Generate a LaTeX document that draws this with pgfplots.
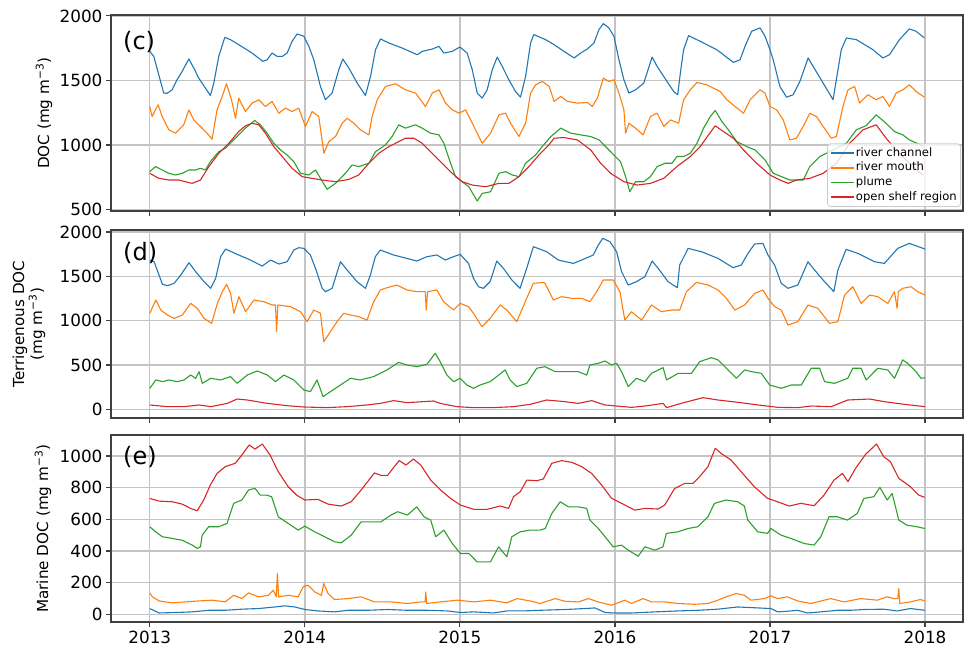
\documentclass[border=0pt]{standalone}
\usepackage{fontspec}
\setmainfont{DejaVu Sans}
\usepackage{pgfplots}
\pgfplotsset{compat=1.18}
\definecolor{cA}{HTML}{1F77B4}
\definecolor{cB}{HTML}{FF7F0E}
\definecolor{cC}{HTML}{2CA02C}
\definecolor{cD}{HTML}{D62728}
\definecolor{gridc}{HTML}{C4C4C4}
\definecolor{framec}{HTML}{404040}

\pgfplotsset{
  panel/.style={
    scale only axis, width=426pt,
    xmin=2012.75, xmax=2018.245,
    xtick={2013,2014,2015,2016,2017,2018},
    grid=major, major grid style={gridc, line width=0.7pt},
    axis line style={framec, line width=0.65pt},
    tick style={framec, line width=0.6pt}, tick align=outside,
    major tick length=2.6pt,
    xtick pos=bottom, ytick pos=left,
    /pgf/number format/assume math mode=true,
    /pgf/number format/1000 sep={},
    ticklabel style={font=\fontsize{8.4pt}{10pt}\selectfont, inner sep=1.5pt},
    label style={font=\fontsize{7.6pt}{9pt}\selectfont},
    every axis plot/.append style={no markers, line width=0.55pt, line join=round},
  },
}
\tikzset{plab/.style={font=\fontsize{12pt}{14pt}\selectfont, anchor=west}}

\begin{document}
\begin{tikzpicture}
\useasboundingbox (0,0) rectangle (485pt,-325.5pt);

% ---------------- (c) total DOC
\begin{axis}[panel, at={(55.5pt,-7.5pt)}, anchor=north west, height=98pt,
  ymin=488, ymax=2007, ytick={500,1000,1500,2000}, xticklabels={},
  ylabel={DOC (mg m\textsuperscript{−3})},
  ylabel style={at={(axis description cs:-0.0786,0.5)}, anchor=center},
  legend cell align=left,
  legend image code/.code={\draw[#1, line width=0.8pt] (0pt,0pt) -- (11.5pt,0pt);},
  legend style={at={(rel axis cs:1,0)}, anchor=south east, xshift=-1pt, yshift=2pt,
    font=\fontsize{5.8pt}{6.5pt}\selectfont, draw=black!20, fill=white,
    fill opacity=0.8, text opacity=1, draw opacity=1, rounded corners=1.5pt,
    inner sep=1.2pt, row sep=0.2pt,
    nodes={inner sep=0.7pt, text height=4.4pt, text depth=1.3pt}}]
\addplot[cA] coordinates {
(2013.000,1725)(2013.026,1686)(2013.090,1402)(2013.112,1400)(2013.144,1427)(2013.176,1505)
(2013.209,1570)(2013.252,1666)(2013.284,1596)(2013.316,1518)(2013.359,1440)(2013.391,1383)
(2013.413,1479)(2013.445,1686)(2013.484,1834)(2013.520,1816)(2013.574,1777)(2013.660,1712)
(2013.729,1648)(2013.757,1660)(2013.789,1712)(2013.822,1686)(2013.854,1686)(2013.886,1712)
(2013.918,1803)(2013.951,1860)(2013.994,1842)(2014.026,1764)(2014.058,1660)(2014.101,1453)
(2014.133,1350)(2014.176,1402)(2014.219,1583)(2014.245,1666)(2014.284,1596)(2014.338,1479)
(2014.391,1383)(2014.424,1531)(2014.456,1738)(2014.488,1821)(2014.542,1790)(2014.628,1751)
(2014.725,1699)(2014.757,1725)(2014.822,1743)(2014.865,1764)(2014.897,1712)(2014.951,1725)
(2015.000,1759)(2015.047,1712)(2015.080,1583)(2015.112,1402)(2015.144,1363)(2015.176,1427)
(2015.209,1583)(2015.241,1681)(2015.273,1609)(2015.316,1505)(2015.359,1414)(2015.391,1370)
(2015.424,1531)(2015.456,1790)(2015.477,1855)(2015.553,1816)(2015.608,1777)(2015.672,1725)
(2015.737,1674)(2015.779,1712)(2015.822,1743)(2015.865,1790)(2015.897,1894)(2015.925,1940)
(2015.961,1907)(2015.994,1842)(2016.026,1660)(2016.058,1505)(2016.090,1402)(2016.133,1427)
(2016.186,1479)(2016.240,1681)(2016.272,1609)(2016.336,1492)(2016.379,1414)(2016.405,1389)
(2016.422,1557)(2016.443,1738)(2016.475,1847)(2016.550,1803)(2016.657,1738)(2016.764,1640)
(2016.807,1660)(2016.839,1764)(2016.882,1881)(2016.936,1907)(2016.968,1842)(2017.000,1738)
(2017.021,1660)(2017.064,1453)(2017.107,1370)(2017.150,1389)(2017.193,1492)(2017.246,1674)
(2017.278,1609)(2017.343,1479)(2017.407,1350)(2017.428,1505)(2017.460,1738)(2017.493,1829)
(2017.557,1816)(2017.664,1738)(2017.728,1674)(2017.771,1699)(2017.835,1816)(2017.899,1899)
(2017.942,1881)(2017.996,1829)};
\addlegendentry{river channel}
\addplot[cB] coordinates {
(2013.000,1298)(2013.015,1220)(2013.054,1311)(2013.080,1220)(2013.123,1117)(2013.166,1091)
(2013.219,1156)(2013.252,1272)(2013.284,1194)(2013.327,1143)(2013.370,1091)(2013.402,1044)
(2013.434,1272)(2013.467,1376)(2013.495,1474)(2013.527,1350)(2013.553,1207)(2013.574,1363)
(2013.617,1259)(2013.660,1324)(2013.703,1350)(2013.746,1298)(2013.789,1337)(2013.832,1246)
(2013.875,1285)(2013.918,1259)(2013.961,1285)(2014.004,1143)(2014.047,1259)(2014.090,1220)
(2014.123,935)(2014.155,1026)(2014.198,1065)(2014.241,1168)(2014.273,1207)(2014.316,1168)
(2014.359,1117)(2014.413,1078)(2014.434,1220)(2014.467,1350)(2014.520,1453)(2014.585,1474)
(2014.649,1427)(2014.714,1402)(2014.778,1298)(2014.822,1402)(2014.865,1427)(2014.908,1324)
(2014.951,1272)(2014.994,1246)(2015.037,1272)(2015.080,1168)(2015.144,1013)(2015.198,1091)
(2015.252,1233)(2015.295,1246)(2015.327,1168)(2015.381,1065)(2015.424,1168)(2015.456,1402)
(2015.488,1466)(2015.531,1492)(2015.576,1453)(2015.608,1337)(2015.651,1376)(2015.694,1337)
(2015.758,1324)(2015.822,1329)(2015.854,1298)(2015.887,1363)(2015.925,1518)(2015.961,1492)
(2015.994,1505)(2016.026,1402)(2016.058,1272)(2016.069,1091)(2016.090,1168)(2016.133,1130)
(2016.182,1078)(2016.229,1220)(2016.272,1246)(2016.315,1143)(2016.358,1194)(2016.411,1168)
(2016.443,1350)(2016.486,1427)(2016.529,1484)(2016.593,1466)(2016.636,1440)(2016.679,1414)
(2016.722,1350)(2016.775,1298)(2016.829,1246)(2016.872,1350)(2016.936,1427)(2016.968,1402)
(2017.000,1298)(2017.043,1272)(2017.086,1194)(2017.128,1039)(2017.171,1052)(2017.214,1143)
(2017.257,1246)(2017.300,1220)(2017.343,1143)(2017.396,1052)(2017.428,1065)(2017.471,1298)
(2017.503,1427)(2017.546,1453)(2017.578,1324)(2017.632,1389)(2017.685,1350)(2017.728,1376)
(2017.771,1298)(2017.814,1402)(2017.857,1427)(2017.899,1466)(2017.942,1414)(2017.996,1370)};
\addlegendentry{river mouth}
\addplot[cC] coordinates {
(2013.000,793)(2013.037,832)(2013.080,806)(2013.123,780)(2013.166,767)(2013.209,780)
(2013.252,806)(2013.295,806)(2013.327,819)(2013.359,806)(2013.391,871)(2013.445,948)
(2013.488,974)(2013.531,1026)(2013.574,1078)(2013.617,1130)(2013.677,1189)(2013.714,1156)
(2013.757,1091)(2013.800,1013)(2013.843,961)(2013.886,922)(2013.929,871)(2013.972,780)
(2014.026,767)(2014.069,806)(2014.101,741)(2014.144,656)(2014.198,702)(2014.262,780)
(2014.305,845)(2014.348,832)(2014.413,858)(2014.456,948)(2014.520,1000)(2014.563,1065)
(2014.606,1156)(2014.649,1130)(2014.714,1156)(2014.757,1130)(2014.811,1091)(2014.865,1078)
(2014.897,1013)(2014.940,858)(2014.972,754)(2015.015,715)(2015.058,676)(2015.112,565)
(2015.144,624)(2015.198,637)(2015.252,780)(2015.295,793)(2015.338,767)(2015.381,754)
(2015.424,858)(2015.488,922)(2015.531,987)(2015.587,1065)(2015.651,1130)(2015.715,1091)
(2015.779,1078)(2015.844,1065)(2015.897,1039)(2015.940,987)(2015.983,935)(2016.036,871)
(2016.069,754)(2016.096,637)(2016.133,715)(2016.186,715)(2016.229,754)(2016.272,832)
(2016.325,858)(2016.368,858)(2016.400,910)(2016.443,910)(2016.486,935)(2016.529,1013)
(2016.572,1130)(2016.615,1220)(2016.647,1267)(2016.690,1181)(2016.732,1117)(2016.786,1026)
(2016.850,987)(2016.904,961)(2016.968,884)(2017.021,780)(2017.075,754)(2017.128,728)
(2017.171,728)(2017.214,728)(2017.257,832)(2017.321,910)(2017.407,961)(2017.493,1013)
(2017.557,1117)(2017.621,1150)(2017.685,1233)(2017.749,1168)(2017.803,1104)(2017.857,1078)
(2017.899,1039)(2017.996,987)};
\addlegendentry{plume}
\addplot[cD] coordinates {
(2013.000,780)(2013.058,741)(2013.123,728)(2013.187,728)(2013.273,702)(2013.327,728)
(2013.381,832)(2013.445,935)(2013.510,1013)(2013.574,1104)(2013.617,1148)(2013.660,1168)
(2013.703,1156)(2013.746,1091)(2013.800,987)(2013.854,910)(2013.918,819)(2013.983,754)
(2014.047,741)(2014.112,728)(2014.198,715)(2014.284,733)(2014.348,767)(2014.413,858)
(2014.477,935)(2014.542,987)(2014.606,1026)(2014.649,1052)(2014.703,1052)(2014.757,1013)
(2014.822,935)(2014.886,858)(2014.951,780)(2015.015,715)(2015.080,689)(2015.166,676)
(2015.252,702)(2015.316,702)(2015.381,754)(2015.445,832)(2015.510,922)(2015.574,1000)
(2015.608,1052)(2015.672,1057)(2015.758,1039)(2015.844,961)(2015.908,858)(2015.972,780)
(2016.058,715)(2016.143,689)(2016.229,702)(2016.315,741)(2016.400,832)(2016.486,910)
(2016.550,987)(2016.604,1078)(2016.647,1148)(2016.700,1104)(2016.764,1052)(2016.829,961)
(2016.914,858)(2017.000,767)(2017.064,728)(2017.118,702)(2017.171,728)(2017.257,741)
(2017.343,780)(2017.428,858)(2017.514,1013)(2017.600,1117)(2017.685,1156)(2017.749,1052)
(2017.814,961)(2017.899,858)(2017.985,767)};
\addlegendentry{open shelf region}
\node[plab] at (axis description cs:0.006,0.862) {(c)};
\end{axis}

% ---------------- (d) terrigenous DOC
\begin{axis}[panel, at={(55.5pt,-115pt)}, anchor=north west, height=94pt,
  ymin=-98, ymax=2023, ytick={0,500,1000,1500,2000}, xticklabels={},
  ylabel={Terrigenous DOC\\(mg m\textsuperscript{−3})},
  ylabel style={at={(axis description cs:-0.0962,0.5)}, anchor=center, align=center}]
\addplot[cA] coordinates {
(2013.000,1684)(2013.028,1665)(2013.082,1410)(2013.114,1395)(2013.157,1421)(2013.200,1515)
(2013.253,1654)(2013.296,1553)(2013.350,1440)(2013.393,1365)(2013.425,1478)(2013.457,1722)
(2013.489,1808)(2013.564,1748)(2013.650,1684)(2013.725,1616)(2013.779,1684)(2013.833,1639)
(2013.886,1665)(2013.929,1797)(2013.961,1823)(2013.994,1816)(2014.036,1741)(2014.069,1590)
(2014.112,1365)(2014.133,1327)(2014.176,1365)(2014.230,1665)(2014.273,1571)(2014.337,1440)
(2014.391,1365)(2014.423,1515)(2014.455,1722)(2014.487,1797)(2014.573,1741)(2014.723,1673)
(2014.788,1722)(2014.852,1741)(2014.906,1684)(2014.959,1722)(2015.002,1748)(2015.056,1646)
(2015.088,1478)(2015.120,1383)(2015.152,1365)(2015.195,1440)(2015.238,1673)(2015.281,1590)
(2015.335,1459)(2015.388,1365)(2015.431,1590)(2015.474,1835)(2015.560,1778)(2015.635,1684)
(2015.732,1646)(2015.785,1684)(2015.861,1741)(2015.893,1853)(2015.921,1929)(2015.968,1891)
(2016.011,1778)(2016.043,1553)(2016.086,1402)(2016.139,1440)(2016.193,1496)(2016.240,1673)
(2016.279,1590)(2016.343,1440)(2016.403,1372)(2016.418,1628)(2016.472,1816)(2016.558,1778)
(2016.665,1703)(2016.762,1598)(2016.815,1628)(2016.858,1759)(2016.901,1865)(2016.955,1872)
(2016.987,1741)(2017.030,1628)(2017.073,1421)(2017.116,1365)(2017.180,1402)(2017.245,1665)
(2017.288,1571)(2017.352,1440)(2017.412,1327)(2017.438,1571)(2017.491,1804)(2017.567,1759)
(2017.674,1665)(2017.738,1646)(2017.824,1816)(2017.899,1872)(2018.000,1808)};
\addplot[cB] coordinates {
(2013.000,1083)(2013.039,1233)(2013.071,1120)(2013.114,1064)(2013.157,1026)(2013.210,1064)
(2013.264,1195)(2013.307,1139)(2013.350,1026)(2013.399,970)(2013.436,1195)(2013.468,1327)
(2013.496,1410)(2013.521,1308)(2013.543,1083)(2013.575,1271)(2013.618,1101)(2013.672,1233)
(2013.736,1214)(2013.790,1177)(2013.811,1177)(2013.818,876)(2013.826,1177)(2013.908,1158)
(2013.972,1101)(2014.015,989)(2014.058,1120)(2014.101,1083)(2014.122,763)(2014.165,876)
(2014.208,989)(2014.251,1083)(2014.294,1064)(2014.348,1045)(2014.401,1007)(2014.444,1214)
(2014.487,1346)(2014.530,1372)(2014.594,1402)(2014.659,1346)(2014.723,1327)(2014.777,1327)
(2014.783,1120)(2014.792,1327)(2014.852,1346)(2014.895,1214)(2014.959,1120)(2015.002,1195)
(2015.056,1158)(2015.088,1083)(2015.142,932)(2015.195,1026)(2015.260,1177)(2015.303,1120)
(2015.367,989)(2015.431,1252)(2015.474,1421)(2015.539,1432)(2015.549,1421)(2015.603,1233)
(2015.657,1271)(2015.721,1252)(2015.785,1252)(2015.839,1214)(2015.882,1327)(2015.925,1459)
(2015.989,1459)(2016.032,1327)(2016.064,1007)(2016.107,1101)(2016.172,1007)(2016.236,1177)
(2016.300,1101)(2016.365,1120)(2016.418,1120)(2016.461,1327)(2016.526,1432)(2016.601,1402)
(2016.665,1346)(2016.719,1252)(2016.773,1120)(2016.837,1177)(2016.901,1308)(2016.955,1346)
(2016.987,1252)(2017.030,1158)(2017.073,1120)(2017.116,951)(2017.180,989)(2017.245,1177)
(2017.309,1139)(2017.384,970)(2017.438,989)(2017.481,1289)(2017.534,1383)(2017.588,1195)
(2017.642,1289)(2017.695,1271)(2017.760,1195)(2017.803,1327)(2017.820,1139)(2017.828,1327)
(2017.856,1365)(2017.910,1383)(2017.953,1327)(2018.000,1289)};
\addplot[cC] coordinates {
(2013.000,237)(2013.039,331)(2013.082,312)(2013.124,331)(2013.178,312)(2013.221,331)
(2013.264,387)(2013.296,350)(2013.318,425)(2013.339,293)(2013.393,350)(2013.457,331)
(2013.521,369)(2013.564,293)(2013.629,387)(2013.693,433)(2013.758,387)(2013.811,312)
(2013.865,387)(2013.929,331)(2013.994,218)(2014.036,199)(2014.079,331)(2014.118,143)
(2014.165,199)(2014.230,274)(2014.294,350)(2014.358,331)(2014.444,369)(2014.530,444)
(2014.605,530)(2014.659,500)(2014.723,481)(2014.788,508)(2014.841,632)(2014.873,538)
(2014.916,387)(2014.959,312)(2015.002,350)(2015.045,274)(2015.088,237)(2015.131,274)
(2015.195,312)(2015.238,369)(2015.292,444)(2015.324,331)(2015.367,256)(2015.431,293)
(2015.496,463)(2015.549,481)(2015.614,425)(2015.678,425)(2015.764,425)(2015.818,387)
(2015.839,500)(2015.893,519)(2015.936,545)(2015.979,500)(2016.011,519)(2016.043,425)
(2016.086,256)(2016.139,350)(2016.193,312)(2016.236,406)(2016.311,470)(2016.333,331)
(2016.408,406)(2016.494,406)(2016.547,538)(2016.622,583)(2016.665,557)(2016.719,463)
(2016.783,350)(2016.837,444)(2016.880,425)(2016.944,406)(2016.998,274)(2017.073,237)
(2017.137,274)(2017.202,274)(2017.266,463)(2017.320,463)(2017.352,312)(2017.416,293)
(2017.502,350)(2017.534,463)(2017.588,463)(2017.620,331)(2017.695,463)(2017.760,444)
(2017.803,350)(2017.856,557)(2017.888,519)(2017.942,425)(2017.974,350)(2018.000,357)};
\addplot[cD] coordinates {
(2013.000,49)(2013.114,30)(2013.221,30)(2013.318,49)(2013.393,30)(2013.500,67)
(2013.564,116)(2013.629,105)(2013.758,67)(2013.886,41)(2013.994,26)(2014.144,19)
(2014.273,30)(2014.401,49)(2014.487,67)(2014.573,98)(2014.659,75)(2014.830,94)
(2014.873,67)(2014.981,30)(2015.088,19)(2015.217,19)(2015.345,30)(2015.453,56)
(2015.560,105)(2015.678,86)(2015.764,67)(2015.850,98)(2015.936,49)(2016.107,22)
(2016.193,37)(2016.311,67)(2016.333,19)(2016.451,79)(2016.569,131)(2016.665,105)
(2016.794,79)(2016.923,49)(2017.052,22)(2017.180,19)(2017.266,37)(2017.395,30)
(2017.502,105)(2017.642,116)(2017.738,86)(2017.867,56)(2018.000,30)};
\node[plab] at (axis description cs:0.006,0.88) {(d)};
\end{axis}

% ---------------- (e) marine DOC
\begin{axis}[panel, at={(55.5pt,-217.5pt)}, anchor=north west, height=93.5pt,
  ymin=-49, ymax=1133, ytick={0,200,400,600,800,1000},
  ylabel={Marine DOC (mg m\textsuperscript{−3})},
  ylabel style={at={(axis description cs:-0.0798,0.5)}, anchor=center}]
\addplot[cA] coordinates {
(2013.000,36)(2013.060,8)(2013.167,11)(2013.274,15)(2013.380,25)(2013.487,25)
(2013.594,32)(2013.701,36)(2013.808,46)(2013.872,53)(2013.936,46)(2014.000,30)
(2014.085,21)(2014.192,15)(2014.278,25)(2014.406,25)(2014.534,30)(2014.662,25)
(2014.791,25)(2014.919,21)(2015.004,11)(2015.090,15)(2015.218,8)(2015.303,21)
(2015.410,21)(2015.517,25)(2015.679,30)(2015.807,36)(2015.872,40)(2015.936,11)
(2016.000,8)(2016.107,8)(2016.257,15)(2016.407,21)(2016.535,25)(2016.664,32)
(2016.792,46)(2016.921,40)(2017.006,36)(2017.049,15)(2017.113,19)(2017.178,25)
(2017.242,8)(2017.328,15)(2017.435,25)(2017.520,25)(2017.606,30)(2017.734,32)
(2017.820,21)(2017.906,36)(2017.998,25)};
\addplot[cB] coordinates {
(2013.000,135)(2013.017,110)(2013.060,84)(2013.145,72)(2013.231,78)(2013.316,84)
(2013.402,89)(2013.487,78)(2013.541,120)(2013.594,99)(2013.637,135)(2013.701,110)
(2013.765,120)(2013.797,152)(2013.816,110)(2013.823,257)(2013.831,110)(2013.893,120)
(2013.957,110)(2013.989,173)(2014.021,184)(2014.064,141)(2014.107,120)(2014.122,194)
(2014.150,131)(2014.192,93)(2014.278,99)(2014.363,110)(2014.449,78)(2014.556,78)
(2014.662,68)(2014.748,78)(2014.776,78)(2014.780,141)(2014.786,68)(2014.876,78)
(2014.983,89)(2015.090,78)(2015.197,89)(2015.303,72)(2015.368,99)(2015.453,84)
(2015.517,68)(2015.615,99)(2015.679,82)(2015.764,78)(2015.829,99)(2015.893,78)
(2015.979,57)(2016.064,89)(2016.107,68)(2016.182,99)(2016.236,78)(2016.321,78)
(2016.407,68)(2016.514,63)(2016.600,68)(2016.664,89)(2016.717,110)(2016.782,131)
(2016.835,120)(2016.878,89)(2016.964,99)(2017.006,116)(2017.049,99)(2017.113,110)
(2017.178,84)(2017.263,68)(2017.392,99)(2017.478,78)(2017.585,99)(2017.692,89)
(2017.756,110)(2017.799,99)(2017.824,99)(2017.831,162)(2017.837,68)(2017.906,78)
(2017.970,93)(2017.998,84)};
\addplot[cC] coordinates {
(2013.000,553)(2013.038,521)(2013.081,490)(2013.145,479)(2013.209,468)(2013.274,437)
(2013.306,416)(2013.327,426)(2013.338,500)(2013.380,553)(2013.444,553)(2013.498,574)
(2013.541,701)(2013.594,722)(2013.637,785)(2013.679,796)(2013.712,753)(2013.754,753)
(2013.786,743)(2013.829,616)(2013.893,574)(2013.957,532)(2014.000,557)(2014.064,521)
(2014.128,490)(2014.192,458)(2014.235,451)(2014.299,500)(2014.363,584)(2014.427,584)
(2014.491,584)(2014.556,627)(2014.598,648)(2014.662,627)(2014.722,679)(2014.769,616)
(2014.812,595)(2014.844,490)(2014.897,532)(2014.951,447)(2015.004,384)(2015.058,384)
(2015.111,331)(2015.197,331)(2015.250,426)(2015.303,363)(2015.335,490)(2015.389,521)
(2015.453,532)(2015.517,532)(2015.550,542)(2015.593,637)(2015.647,711)(2015.700,679)
(2015.764,679)(2015.818,669)(2015.839,595)(2015.893,542)(2015.936,490)(2015.989,426)
(2016.043,437)(2016.086,405)(2016.150,367)(2016.193,426)(2016.257,405)(2016.310,426)
(2016.332,511)(2016.407,521)(2016.471,542)(2016.535,553)(2016.600,616)(2016.642,701)
(2016.717,722)(2016.792,711)(2016.835,684)(2016.857,595)(2016.921,521)(2016.985,511)
(2017.006,542)(2017.071,500)(2017.135,479)(2017.221,447)(2017.285,437)(2017.328,490)
(2017.381,616)(2017.435,616)(2017.499,595)(2017.563,637)(2017.606,732)(2017.670,743)
(2017.709,802)(2017.756,722)(2017.788,764)(2017.831,595)(2017.884,563)(2017.949,553)
(2017.998,542)};
\addplot[cD] coordinates {
(2013.000,732)(2013.060,715)(2013.145,711)(2013.209,696)(2013.263,669)(2013.306,654)
(2013.348,722)(2013.391,817)(2013.434,890)(2013.487,933)(2013.551,954)(2013.594,1006)
(2013.641,1070)(2013.679,1044)(2013.726,1076)(2013.776,1006)(2013.829,901)(2013.893,806)
(2013.947,753)(2014.000,722)(2014.085,726)(2014.150,696)(2014.235,684)(2014.299,711)
(2014.363,785)(2014.449,893)(2014.491,878)(2014.534,878)(2014.577,933)(2014.609,971)
(2014.652,943)(2014.701,981)(2014.748,943)(2014.812,848)(2014.876,785)(2014.940,732)
(2015.004,690)(2015.090,663)(2015.175,663)(2015.261,684)(2015.314,669)(2015.346,743)
(2015.389,774)(2015.432,848)(2015.496,844)(2015.538,855)(2015.593,954)(2015.657,971)
(2015.722,960)(2015.786,933)(2015.850,890)(2015.914,817)(2015.979,732)(2016.043,701)
(2016.128,658)(2016.193,669)(2016.278,665)(2016.321,690)(2016.385,795)(2016.450,827)
(2016.503,827)(2016.546,869)(2016.600,933)(2016.647,1049)(2016.685,1017)(2016.749,975)
(2016.814,901)(2016.899,806)(2016.985,732)(2017.049,711)(2017.124,684)(2017.199,701)
(2017.285,686)(2017.349,753)(2017.413,848)(2017.467,890)(2017.503,838)(2017.552,922)
(2017.617,1011)(2017.687,1076)(2017.734,996)(2017.777,964)(2017.831,859)(2017.906,806)
(2017.959,753)(2017.998,739)};
\node[plab] at (axis description cs:0.006,0.88) {(e)};
\end{axis}
\end{tikzpicture}
\end{document}
